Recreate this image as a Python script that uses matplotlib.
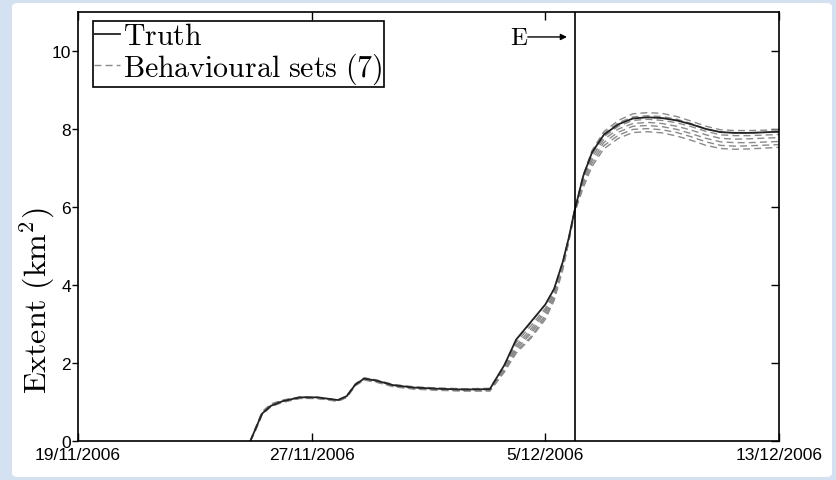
import matplotlib
matplotlib.use("Agg")
import matplotlib.pyplot as plt
from matplotlib.patches import FancyBboxPatch

plt.rcParams["mathtext.fontset"] = "cm"
plt.rcParams["font.family"] = ["Liberation Sans", "DejaVu Sans"]

# days since 19/11/2006
days = [5.9, 6.1, 6.3, 6.6, 7.0, 7.6, 8.2, 8.9, 9.2, 9.5, 9.8, 10.2, 10.8, 11.5, 12.3, 13.2, 14.1,
        14.6, 15.0, 15.5, 16.0, 16.3, 16.6, 16.8, 17.0, 17.3, 17.6, 18.0, 18.5, 19.0, 19.5, 20.0,
        20.5, 21.0, 21.5, 22.0, 22.5, 23.0, 24.0]

truth = [0, 0.35, 0.70, 0.90, 1.02, 1.12, 1.12, 1.05, 1.15, 1.45, 1.60, 1.55, 1.43, 1.37, 1.34, 1.32, 1.33,
         1.95, 2.60, 3.05, 3.50, 3.90, 4.60, 5.20, 5.90, 6.80, 7.40, 7.85, 8.12, 8.27, 8.30, 8.28,
         8.22, 8.12, 8.00, 7.92, 7.90, 7.90, 7.93]

set_a = [0, 0.38, 0.75, 0.95, 1.05, 1.13, 1.12, 1.05, 1.16, 1.47, 1.62, 1.57, 1.45, 1.39, 1.36, 1.34, 1.35,
         1.95, 2.58, 3.03, 3.50, 3.90, 4.60, 5.20, 5.90, 6.82, 7.45, 7.93, 8.22, 8.39, 8.42, 8.40,
         8.32, 8.20, 8.07, 7.98, 7.96, 7.96, 7.98]
set_b = [0, 0.36, 0.72, 0.93, 1.04, 1.12, 1.11, 1.04, 1.15, 1.46, 1.61, 1.56, 1.44, 1.38, 1.35, 1.33, 1.34,
         1.90, 2.52, 2.95, 3.40, 3.82, 4.55, 5.18, 5.90, 6.80, 7.42, 7.88, 8.16, 8.31, 8.34, 8.32,
         8.25, 8.14, 8.00, 7.92, 7.90, 7.90, 7.93]
set_c = [0, 0.35, 0.71, 0.92, 1.03, 1.12, 1.11, 1.04, 1.14, 1.45, 1.60, 1.55, 1.43, 1.37, 1.34, 1.32, 1.32,
         1.87, 2.45, 2.87, 3.35, 3.78, 4.52, 5.16, 5.90, 6.75, 7.35, 7.80, 8.07, 8.22, 8.25, 8.22,
         8.16, 8.06, 7.94, 7.85, 7.83, 7.83, 7.86]
set_d = [0, 0.34, 0.70, 0.91, 1.02, 1.11, 1.10, 1.03, 1.14, 1.44, 1.59, 1.54, 1.42, 1.36, 1.33, 1.31, 1.31,
         1.85, 2.40, 2.80, 3.30, 3.75, 4.50, 5.15, 5.88, 6.70, 7.28, 7.73, 8.00, 8.14, 8.17, 8.14,
         8.07, 7.97, 7.85, 7.76, 7.74, 7.75, 7.78]
set_e = [0, 0.33, 0.69, 0.90, 1.01, 1.10, 1.10, 1.03, 1.13, 1.43, 1.58, 1.53, 1.41, 1.35, 1.32, 1.30, 1.30,
         1.83, 2.35, 2.75, 3.22, 3.70, 4.48, 5.14, 5.87, 6.65, 7.20, 7.65, 7.92, 8.07, 8.09, 8.06,
         7.99, 7.88, 7.76, 7.67, 7.65, 7.65, 7.68]
set_f = [0, 0.32, 0.68, 0.89, 1.00, 1.10, 1.09, 1.02, 1.12, 1.43, 1.57, 1.52, 1.40, 1.34, 1.31, 1.29, 1.29,
         1.80, 2.30, 2.67, 3.18, 3.65, 4.45, 5.12, 5.85, 6.58, 7.12, 7.57, 7.84, 7.99, 8.01, 7.98,
         7.91, 7.80, 7.67, 7.58, 7.56, 7.57, 7.60]
set_g = [0, 0.31, 0.67, 0.88, 0.99, 1.09, 1.09, 1.02, 1.12, 1.42, 1.56, 1.51, 1.39, 1.33, 1.30, 1.28, 1.28,
         1.77, 2.25, 2.63, 3.12, 3.60, 4.40, 5.10, 5.84, 6.50, 7.04, 7.49, 7.76, 7.91, 7.93, 7.90,
         7.82, 7.71, 7.58, 7.50, 7.48, 7.49, 7.53]
behavioural = [set_a, set_b, set_c, set_d, set_e, set_f, set_g]

tick_days = [0, 8, 16, 24]
tick_labels = ["19/11/2006", "27/11/2006", "5/12/2006", "13/12/2006"]
event_day = 17.0

fig = plt.figure(figsize=(8.36, 4.81), dpi=100)
fig.patch.set_facecolor("#d3e1f1")
panel = FancyBboxPatch((12 / 836, 3 / 481), 820 / 836, 474 / 481,
                       boxstyle="round,pad=0,rounding_size=0.008",
                       transform=fig.transFigure, facecolor="white", edgecolor="none", zorder=-5)
fig.patches.append(panel)

ax = fig.add_axes([78 / 836, 1 - 442 / 481, 701 / 836, 429 / 481])
ax.set_facecolor("white")
ax.set_zorder(2)

for i, s in enumerate(behavioural):
    ax.plot(days, s, color="#8a8a8a", ls=(0, (5, 3)), lw=1.0,
            label="Behavioural sets (7)" if i == 0 else None)
ax.plot(days, truth, color="#222222", lw=1.3, label="Truth")
ax.axvline(event_day, color="black", lw=1.2)

ax.annotate("", xy=(16.74, 10.36), xytext=(15.4, 10.36),
            arrowprops=dict(arrowstyle="-|>", color="black", lw=1.0, mutation_scale=9,
                            shrinkA=0, shrinkB=0))
ax.text(15.1, 10.36, r"$\mathrm{E}$", fontsize=18, ha="center", va="center")

ax.set_xlim(0, 24)
ax.set_ylim(0, 11)
ax.set_xticks(tick_days)
ax.set_xticklabels(tick_labels)
ax.set_yticks([0, 2, 4, 6, 8, 10])
ax.tick_params(axis="x", direction="in", length=6, width=1, labelsize=12.5, pad=4, top=True)
ax.tick_params(axis="y", direction="out", length=4, width=1, labelsize=12.5, pad=1)
ax.tick_params(axis="y", which="both", right=True)
for t in ax.yaxis.get_ticklines()[1::2]:
    t.set_marker(0)  # right ticks point inward
    t.set_markersize(6)
for sp in ax.spines.values():
    sp.set_linewidth(1.2)

# label sits below the middle of the axis, as in the original figure
ax.set_ylabel(r"$\mathrm{Extent\ (km^2)}$", fontsize=23)
ax.yaxis.set_label_coords(-0.030, 0.33)

handles, labels = ax.get_legend_handles_labels()
leg = ax.legend(handles[::-1], [r"$\mathrm{Truth}$", r"$\mathrm{Behavioural\ sets\ (7)}$"],
                loc="upper left", bbox_to_anchor=(15 / 701, 1 - 9 / 429), borderaxespad=0,
                fontsize=21.5, handlelength=0.85, handletextpad=0.1, labelspacing=0.0,
                borderpad=0.05, fancybox=False, framealpha=1)
leg.get_frame().set_edgecolor("black")
leg.get_frame().set_linewidth(1.2)

fig.savefig("out.png", dpi=100, facecolor=fig.get_facecolor())
